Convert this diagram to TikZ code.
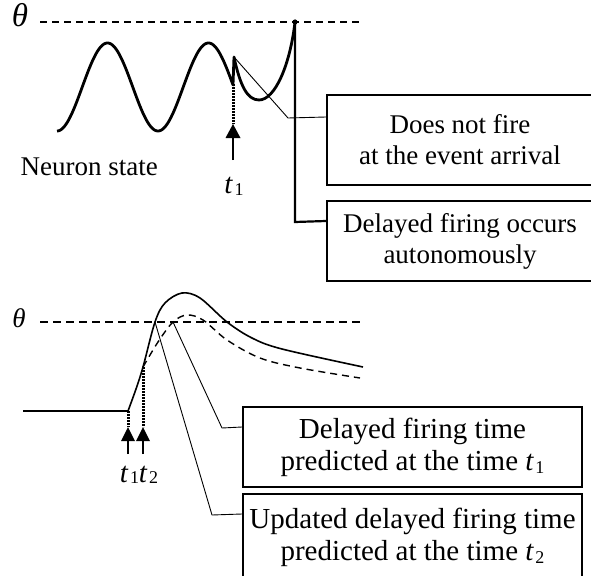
\documentclass[tikz,border=0pt]{standalone}
\usepackage{fontspec}
\setmainfont{Liberation Serif}
\usepackage{graphicx}
\usetikzlibrary{arrows.meta}
\newcommand{\tsb}[2][-0.12em]{\textit{t}\kern0.05em\raisebox{#1}{\scalebox{0.62}{#2}}}
\begin{document}
\begin{tikzpicture}[x=1pt,y=-1pt,
  thrtop/.style={line width=2pt, dash pattern=on 7pt off 5pt},
  thrbot/.style={line width=1.3pt, dash pattern=on 8pt off 5pt},
  wave/.style={line width=2.8pt, line join=round},
  resp/.style={line width=1.6pt, line join=round},
  pred/.style={line width=1.4pt, dash pattern=on 7pt off 5pt},
  pointer/.style={line width=0.9pt},
  firing/.style={line width=2.2pt},
  evdot/.style={line width=3pt, dash pattern=on 1.8pt off 1.2pt},
  evline/.style={line width=2pt},
  evhead/.style={fill=black},
  box/.style={draw, line width=2pt, align=center, inner sep=0pt},
  topfont/.style={font=\fontsize{27}{31}\selectfont},
  botfont/.style={font=\fontsize{29}{32}\selectfont},
  tlabel/.style={anchor=base, font=\fontsize{29}{29}\selectfont, inner sep=0pt}
]
\useasboundingbox (0,0) rectangle (591,575);
\clip (0,0) rectangle (591,575);

% ---------------- top panel ----------------
\node (thetaA) at (20,15) {\fontsize{33}{33}\selectfont\itshape θ};
\coordinate (thAs) at (40,22);
\coordinate (thAe) at (363,22);
\draw[thrtop] (thAs) -- (thAe);

\coordinate (spike) at (234,57);
\coordinate (fire) at (295,22);
\draw[wave] plot[domain=57:233, samples=160] (\x,{87+44*cos(3.56436*(\x-57))})
  -- (spike) .. controls (240,85) and (247,100) .. (259,100)
  .. controls (275,100) and (290,65) .. (fire);
\fill (fire) circle (2.6);

\node[anchor=base west, topfont] (neuron) at (17,175) {Neuron state};

% event t1
\coordinate (evAtop) at (233,84);
\coordinate (evAtip) at (233,124);
\coordinate (evAbot) at (233,160);
\draw[evdot] (evAtop) -- (evAtip);
\draw[evline] (evAbot) -- ([yshift=-12pt]evAtip);
\fill[evhead] (evAtip) -- ++(-7.5,14) -- ++(15,0) -- cycle;
\node[tlabel] (tA) at (234,193) {\tsb[-0.08em]{1}};

% boxes
\node[box, topfont, minimum width=266, minimum height=90] (b1) at (460,140)
  {Does not fire\\at the event arrival};
\node[box, topfont, minimum width=266, minimum height=80] (b2) at (460,241)
  {Delayed firing occurs\\autonomously};

\coordinate (kA) at (288,118);
\draw[pointer] (spike) -- (kA) -- ([yshift=-23pt]b1.north west);
\coordinate (kB) at (295,222);
\draw[firing] (fire) -- (kB) -- ([yshift=-21pt]b2.north west);

% ---------------- bottom panel ----------------
\node (thetaB) at (19,318.5) {\fontsize{27}{27}\selectfont\itshape θ};
\coordinate (thBs) at (40,322);
\coordinate (thBe) at (363,322);
\draw[thrbot] (thBs) -- (thBe);

\coordinate (rest) at (23,411);
\coordinate (onset) at (128,411);
\coordinate (hit2) at (143,367);
\coordinate (crossA) at (155,322);
\coordinate (crossB) at (173,322);
\draw[resp] (rest) -- (onset);
\draw[resp] plot[smooth, tension=0.55] coordinates {(onset) (136,389) (hit2) (crossA) (165,303) (182,293) (200,298) (227,322) (252,338) (282,349) (363,367)};
\draw[pred] plot[smooth, tension=0.55] coordinates {(hit2) (158,342) (crossB) (187,315) (203,320) (227,340) (260,358) (300,368) (360,378)};

% events t1, t2
\coordinate (evBtip) at (128,427);
\coordinate (evBbot) at (128,454);
\coordinate (evCtip) at (143,427);
\coordinate (evCbot) at (143,454);
\draw[evdot] (onset) -- (evBtip);
\draw[evdot] (hit2) -- (evCtip);
\draw[evline] (evBbot) -- ([yshift=-12pt]evBtip);
\draw[evline] (evCbot) -- ([yshift=-12pt]evCtip);
\fill[evhead] (evBtip) -- ++(-7,14) -- ++(14,0) -- cycle;
\fill[evhead] (evCtip) -- ++(-7,14) -- ++(14,0) -- cycle;
\node[tlabel] (tB) at (129.5,482) {\tsb[-0.06em]{1}};
\node[tlabel] (tC) at (148.5,482) {\tsb[-0.06em]{2}};

\node[box, botfont, minimum width=339, minimum height=80] (b3) at (412.5,447)
  {Delayed firing time\\predicted at the time \tsb{1}};
\node[box, botfont, minimum width=339, minimum height=86] (b4) at (412.5,537)
  {Updated delayed firing time\\predicted at the time \tsb{2}};

\coordinate (kC) at (222,428);
\draw[pointer] (crossB) -- (kC) -- ([yshift=-21pt]b3.north west);
\coordinate (kD) at (212,515);
\draw[pointer] (crossA) -- (kD) -- ([yshift=-21pt]b4.north west);
\end{tikzpicture}
\end{document}
